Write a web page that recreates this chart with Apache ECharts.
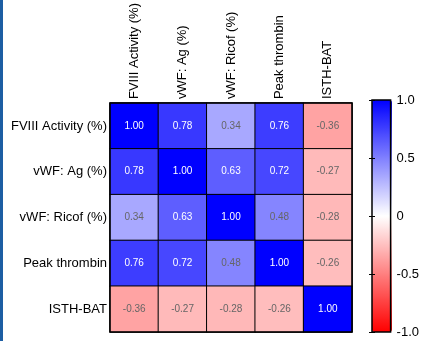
<!DOCTYPE html>
<html>
<head>
<meta charset="utf-8">
<script src="https://cdn.jsdelivr.net/npm/echarts@6/dist/echarts.min.js"></script>
<style>
html,body{margin:0;padding:0;background:#fff;}
#c{width:422px;height:341px;}
</style>
</head>
<body>
<div id="c"></div>
<script>
var variables = ['FVIII Activity (%)', 'vWF: Ag (%)', 'vWF: Ricof (%)', 'Peak thrombin', 'ISTH-BAT'];
var rowFVIII = [1.00, 0.78, 0.34, 0.76, -0.36];
var rowAg    = [0.78, 1.00, 0.63, 0.72, -0.27];
var rowRicof = [0.34, 0.63, 1.00, 0.48, -0.28];
var rowPeak  = [0.76, 0.72, 0.48, 1.00, -0.26];
var rowISTH  = [-0.36, -0.27, -0.28, -0.26, 1.00];
var colorTicks = [1.0, 0.5, 0, -0.5, -1.0];
var colorTickLabels = ['1.0', '0.5', '0', '-0.5', '-1.0'];

var rows = [rowFVIII, rowAg, rowRicof, rowPeak, rowISTH];
var data = [];
rows.forEach(function (r, i) {
  r.forEach(function (v, j) {
    data.push({
      value: [j, i, v],
      label: { color: Math.abs(v) >= 0.6 ? '#ffffff' : '#666666' }
    });
  });
});

var chart = echarts.init(document.getElementById('c'), null, { renderer: 'canvas' });
var font = 'Liberation Sans, Arial, sans-serif';
chart.setOption({
  animation: false,
  backgroundColor: '#ffffff',
  graphic: [{
    type: 'rect', left: 0, top: 0, shape: { width: 3, height: 341 },
    style: { fill: '#1d5ea3' }, z: 100
  }],
  grid: [
    { left: 110, top: 100, width: 242, height: 232, show: true, borderColor: '#000', borderWidth: 1.5, backgroundColor: 'transparent', z: 5 },
    { left: 372, top: 100, width: 20, height: 232, show: true, borderColor: '#000', borderWidth: 1.5, backgroundColor: 'transparent', z: 5 }
  ],
  xAxis: [
    {
      type: 'category', gridIndex: 0, data: variables, position: 'top',
      axisLine: { show: false }, axisTick: { show: false }, splitLine: { show: false },
      axisLabel: { rotate: -90, margin: 4, color: '#000', fontSize: 13, fontFamily: font }
    },
    { type: 'value', gridIndex: 1, show: false, min: 0, max: 1 }
  ],
  yAxis: [
    {
      type: 'category', gridIndex: 0, data: variables, inverse: true,
      axisLine: { show: false }, axisTick: { show: false }, splitLine: { show: false },
      axisLabel: { margin: 3, color: '#000', fontSize: 13, fontFamily: font }
    },
    {
      type: 'value', gridIndex: 1, min: -1, max: 1, interval: 0.5, position: 'right', z: 6,
      axisLine: { show: false }, splitLine: { show: false },
      axisTick: { show: true, inside: true, length: 3, lineStyle: { color: '#000', width: 1 } },
      axisLabel: {
        margin: 6, color: '#000', fontSize: 13, fontFamily: font,
        formatter: function (v) {
          var k = colorTicks.indexOf(v);
          return k >= 0 ? colorTickLabels[k] : '';
        }
      }
    },
    {
      type: 'value', gridIndex: 1, min: -1, max: 1, interval: 0.5, position: 'left', z: 6,
      axisLine: { show: false }, splitLine: { show: false },
      axisTick: { show: true, inside: true, length: 3, lineStyle: { color: '#000', width: 1 } },
      axisLabel: { show: false }
    }
  ],
  visualMap: {
    type: 'continuous', min: -1, max: 1, seriesIndex: 0, calculable: false,
    orient: 'vertical', left: 372, top: 100, itemWidth: 20, itemHeight: 232,
    padding: 0, text: null, showLabel: false,
    inRange: { color: ['#ff0000', '#ffffff', '#0000ff'] }
  },
  series: [{
    type: 'heatmap', xAxisIndex: 0, yAxisIndex: 0, data: data,
    itemStyle: { borderColor: '#000', borderWidth: 1 },
    label: {
      show: true, fontSize: 10, fontFamily: font,
      formatter: function (p) { return p.value[2].toFixed(2); }
    },
    emphasis: { disabled: true }
  }]
});
</script>
</body>
</html>
